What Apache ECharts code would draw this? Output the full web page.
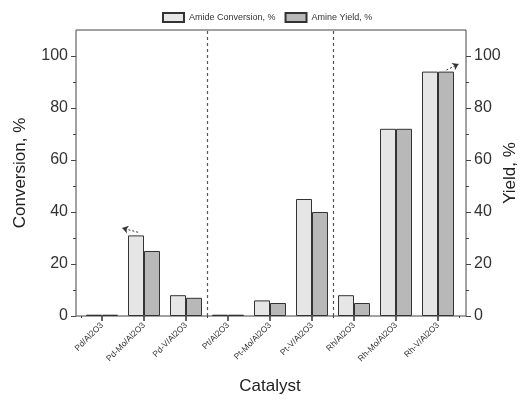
<!DOCTYPE html>
<html><head><meta charset="utf-8">
<script src="https://cdn.jsdelivr.net/npm/echarts@6/dist/echarts.min.js"></script>
<style>html,body{margin:0;padding:0;background:#fff}#c{width:526px;height:403px}</style>
</head><body><div id="c"></div>
<script>
const categories = ['Pd/Al2O3','Pd-Mo/Al2O3','Pd-V/Al2O3','Pt/Al2O3','Pt-Mo/Al2O3','Pt-V/Al2O3','Rh/Al2O3','Rh-Mo/Al2O3','Rh-V/Al2O3'];
const amideConversion = [0.5, 31, 8, 0.5, 6, 45, 8, 72, 94];
const amineYield = [0.5, 25, 7, 0.5, 5, 40, 5, 72, 94];
const yTicks = [0, 20, 40, 60, 80, 100];
const yMinorTicks = [10, 30, 50, 70, 90];
const groupSeparators = [2.5, 5.5];
const arrows = [
  {from: [0.86, 32.2], to: [0.48, 33.8], curve: -0.3},
  {from: [8.2, 94.6], to: [8.49, 96.9], curve: 0.3}
];
const font = 'Liberation Sans, Arial, sans-serif';
const chart = echarts.init(document.getElementById('c'));
function shownAxis(pos, name, gap) {
  return {
    type: 'value', min: 0, max: 110, gridIndex: 1, position: pos,
    axisLine: {show: false}, splitLine: {show: false},
    axisTick: {show: true, inside: false, length: 5, lineStyle: {color: '#444'}, customValues: yTicks},
    axisLabel: {color: '#333', fontSize: 16, fontFamily: font, margin: 8, customValues: yTicks},
    name: name, nameGap: gap, nameLocation: 'middle', nameRotate: 90, nameMoveOverlap: false,
    nameTextStyle: {color: '#222', fontSize: 17, fontFamily: font}
  };
}
function minorAxis(pos) {
  return {
    type: 'value', min: 0, max: 110, gridIndex: 1, position: pos,
    axisLine: {show: false}, axisLabel: {show: false}, splitLine: {show: false},
    axisTick: {show: true, inside: false, length: 3, lineStyle: {color: '#444'}, customValues: yMinorTicks}
  };
}
chart.setOption({
  animation: false,
  backgroundColor: '#fff',
  grid: [
    {left: 81, right: 67, top: 30, bottom: 87, show: false, containLabel: false, outerBoundsMode: 'none'},
    {left: 76, right: 60, top: 30, bottom: 87, show: true, borderColor: '#444', borderWidth: 1,
     backgroundColor: 'transparent', containLabel: false, outerBoundsMode: 'none'}
  ],
  legend: {
    top: 7, left: 157, itemWidth: 21, itemHeight: 9, itemGap: 9,
    icon: 'rect',
    textStyle: {fontSize: 9, color: '#333', fontFamily: font},
    data: ['Amide Conversion, %', 'Amine Yield, %']
  },
  xAxis: [
    {type: 'category', data: categories, gridIndex: 0, position: 'bottom',
     axisLine: {show: false},
     axisTick: {show: true, alignWithLabel: true, length: 5, lineStyle: {color: '#333', width: 1.5}},
     axisLabel: {rotate: 45, fontSize: 8.5, color: '#333', fontFamily: font, margin: 8, interval: 0},
     name: 'Catalyst', nameLocation: 'middle', nameGap: 62, nameMoveOverlap: false,
     nameTextStyle: {color: '#222', fontSize: 17, fontFamily: font}},
    {type: 'category', data: categories, gridIndex: 0, position: 'bottom',
     axisLine: {show: false}, axisLabel: {show: false},
     axisTick: {show: true, alignWithLabel: false, length: 2, lineStyle: {color: '#444'}}},
    {type: 'value', min: -0.5, max: 8.5, gridIndex: 0, show: false},
    {type: 'value', gridIndex: 1, show: false}
  ],
  yAxis: [
    {type: 'value', min: 0, max: 110, gridIndex: 0, show: false},
    {type: 'value', min: 0, max: 110, gridIndex: 0, show: false},
    shownAxis('left', 'Conversion, %', 47),
    shownAxis('right', 'Yield, %', 36),
    minorAxis('left'),
    minorAxis('right')
  ],
  series: [
    {name: 'Amide Conversion, %', type: 'bar', xAxisIndex: 0, yAxisIndex: 0,
     data: amideConversion, barWidth: 16, barGap: '0%',
     itemStyle: {color: '#e6e6e6', borderColor: '#333', borderWidth: 1}},
    {name: 'Amine Yield, %', type: 'bar', xAxisIndex: 0, yAxisIndex: 1,
     data: amineYield, barWidth: 16, barGap: '0%',
     itemStyle: {color: '#b8b8b8', borderColor: '#333', borderWidth: 1}},
    {type: 'scatter', xAxisIndex: 2, yAxisIndex: 0, data: [], silent: true,
     markLine: {symbol: 'none', silent: true, label: {show: false},
       lineStyle: {type: [3, 3], color: '#555', width: 1.2},
       data: groupSeparators.map(v => ({xAxis: v}))}},
    {type: 'scatter', xAxisIndex: 2, yAxisIndex: 0, data: [], silent: true, clip: false,
     markLine: {symbol: ['none', 'arrow'], symbolSize: 6, silent: true, label: {show: false},
       lineStyle: {type: [2, 2], color: '#333', width: 1},
       data: arrows.map(a => [{coord: a.from, lineStyle: {curveness: a.curve}}, {coord: a.to}])}}
  ]
});
</script></body></html>
